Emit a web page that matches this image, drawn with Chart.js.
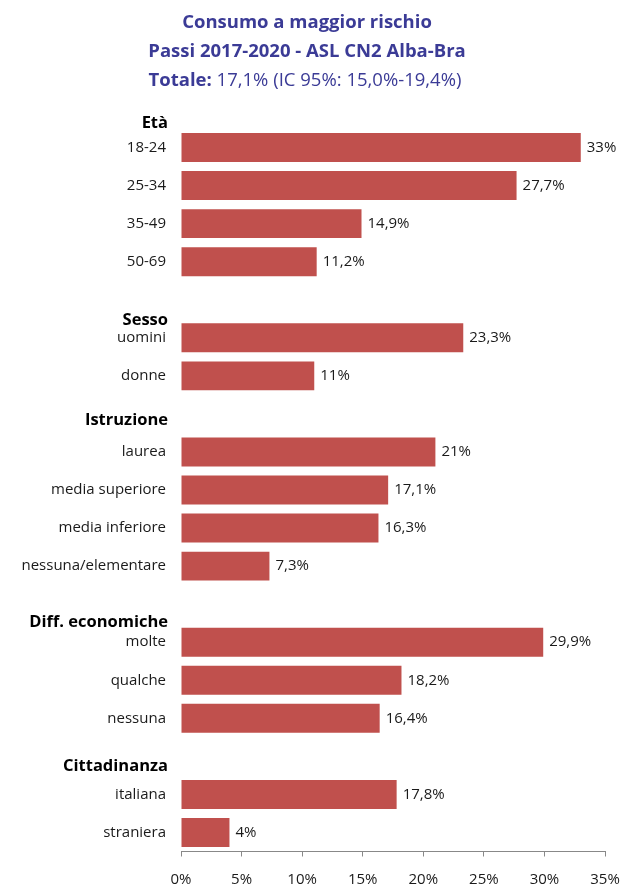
<!DOCTYPE html>
<html><head><meta charset="utf-8">
<script src="https://cdn.jsdelivr.net/npm/chart.js@4"></script>
<style>html,body{margin:0;padding:0;background:#fff}#wrap{width:624px;height:885px;position:relative}</style>
</head><body><div id="wrap"><canvas id="c"></canvas></div>
<script>
const titleLines = ['Consumo a maggior rischio', 'Passi 2017-2020 - ASL CN2 Alba-Bra'];
const totalLabel = 'Totale:';
const totalText = ' 17,1% (IC 95%: 15,0%-19,4%)';
const categories = ['18-24','25-34','35-49','50-69','','uomini','donne','','laurea','media superiore','media inferiore','nessuna/elementare','','molte','qualche','nessuna','','italiana','straniera'];
const values = [33, 27.7, 14.9, 11.2, null, 23.3, 11, null, 21, 17.1, 16.3, 7.3, null, 29.9, 18.2, 16.4, null, 17.8, 4];
const groupHeaders = ['Età','Sesso','Istruzione','Diff. economiche','Cittadinanza'];
const headerRows = [0, 5, 7, 13, 16];
const xTicks = [0,5,10,15,20,25,30,35];

const FONT = "'Open Sans', 'Noto Sans', sans-serif";
const headerOffsets = [-0.64, -0.47, 0.16, -0.53, 0.25];

const fmt = v => String(v).replace('.', ',') + '%';

const overlay = {
  id: 'overlay',
  afterDraw(chart) {
    const ctx = chart.ctx;
    const x = chart.scales.x, y = chart.scales.y;
    ctx.save();
    ctx.fillStyle = '#3B3B96';
    ctx.textAlign = 'center';
    ctx.textBaseline = 'middle';
    ctx.font = 'bold 18.5px ' + FONT;
    ctx.fillText(titleLines[0], 307, 23);
    ctx.fillText(titleLines[1], 307, 52);
    ctx.font = 'bold 18.5px ' + FONT;
    const w1 = ctx.measureText(totalLabel).width;
    ctx.font = '18.5px ' + FONT;
    const w2 = ctx.measureText(totalText).width;
    const sx = 305 - (w1 + w2) / 2;
    ctx.textAlign = 'left';
    ctx.font = 'bold 18.5px ' + FONT;
    ctx.fillText(totalLabel, sx, 81);
    ctx.font = '18.5px ' + FONT;
    ctx.fillText(totalText, sx + w1, 81);
    ctx.fillStyle = '#000';
    ctx.textAlign = 'right';
    ctx.font = 'bold 16.5px ' + FONT;
    const step = y.getPixelForValue(1) - y.getPixelForValue(0);
    groupHeaders.forEach((h, i) => {
      const py = y.getPixelForValue(headerRows[i]) + headerOffsets[i] * step;
      ctx.fillText(h, 168, py);
    });
    ctx.textAlign = 'left';
    ctx.font = '15px ' + FONT;
    ctx.fillStyle = '#1a1a1a';
    const meta = chart.getDatasetMeta(0);
    values.forEach((v, i) => {
      if (v === null) return;
      const bar = meta.data[i];
      ctx.fillText(fmt(v), x.getPixelForValue(v) + 6, bar.y);
    });
    ctx.restore();
  }
};

new Chart(document.getElementById('c'), {
  type: 'bar',
  data: {
    labels: categories,
    datasets: [{
      data: values,
      backgroundColor: '#C0504D',
      borderWidth: 0,
      barPercentage: 0.76,
      categoryPercentage: 1
    }]
  },
  options: {
    indexAxis: 'y',
    responsive: true,
    maintainAspectRatio: false,
    animation: false,
    layout: { padding: { top: 128.5, right: 19, left: 0, bottom: 0 } },
    plugins: { legend: { display: false }, tooltip: { enabled: false }, title: { display: false } },
    scales: {
      x: {
        min: 0, max: 35,
        afterBuildTicks: s => { s.ticks = xTicks.map(v => ({ value: v })); },
        afterFit: s => { s.height = 33.5; s.paddingLeft = 0; s.paddingRight = 0; },
        grid: { drawOnChartArea: false, drawTicks: true, tickLength: 5, color: '#888' },
        border: { display: true, color: '#888' },
        ticks: { padding: 14, color: '#1a1a1a', font: { family: FONT, size: 15 }, callback: v => v + '%' }
      },
      y: {
        afterFit: s => { s.width = 181; s.paddingTop = 0; s.paddingBottom = 0; },
        grid: { display: false },
        border: { display: false },
        ticks: { padding: 7, color: '#1a1a1a', font: { family: FONT, size: 15 }, autoSkip: false }
      }
    }
  },
  plugins: [overlay]
});
</script></body></html>
